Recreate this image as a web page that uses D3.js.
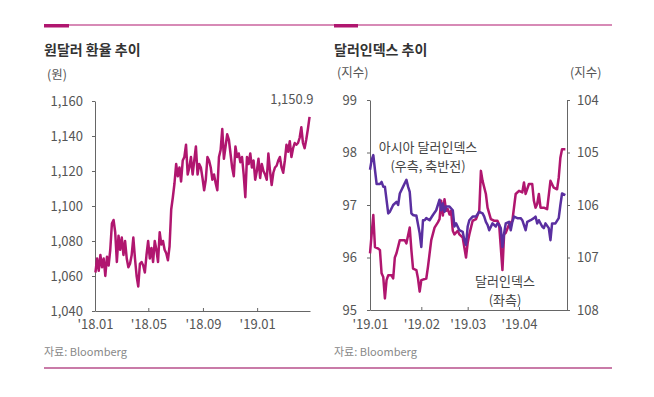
<!DOCTYPE html>
<html>
<head>
<meta charset="utf-8">
<script src="https://cdn.jsdelivr.net/npm/d3@7"></script>
<style>
body { margin: 0; background: #fff; }
text { font-family: "Noto Sans CJK KR", "Noto Sans", sans-serif; }
</style>
</head>
<body>
<svg id="chart" width="654" height="397"></svg>
<script>
// 원달러 환율 (daily close)
var krwValues = [
	1062,1070,1063,1072,1065,1070,1060,1071,1066,1075,
	1090,1092,1085,1068,1083,1075,1082,1072,1080,1070,
	1065,1067,1072,1082,1070,1060,1054,1067,1068,1066,
	1062,1072,1080,1070,1076,1068,1080,1075,1068,1085,
	1078,1080,1075,1073,1069,1077,1098,1105,1113,1124,
	1117,1122,1114,1126,1128,1135,1118,1122,1128,1118,
	1126,1134,1118,1124,1122,1116,1109,1115,1128,1126,
	1122,1115,1118,1113,1109,1128,1132,1144,1127,1134,
	1141,1138,1130,1122,1117,1134,1128,1130,1125,1128,
	1118,1105,1128,1124,1130,1122,1126,1115,1120,1127,
	1116,1124,1120,1118,1115,1130,1120,1112,1119,1122,
	1123,1126,1128,1122,1119,1126,1135,1131,1137,1128,
	1133,1136,1135,1136,1139,1145,1136,1133,1138,1144,
	1150.9
];
var krwStart = "2018-01-02";
var krwEnd = "2019-04-29";
var krwTicks = ["2018-01-01", "2018-05-01", "2018-09-01", "2019-01-01"];
var krwTickLabels = ["'18.01", "'18.05", "'18.09", "'19.01"];
var krwYTicks = [1040, 1060, 1080, 1100, 1120, 1140, 1160];

// 달러인덱스 (좌측) - days since 2019-01-01
var dxyDays = [0,2,3,5,6,7,8,9,10,11,13,14,15,16,18,21,22,24,25,26,28,29,30,31,34,35,37,39,41,42,43,44,45,46,47,48,49,50,51,53,54,56,57,58,59,60,62,64,66,67,68,70,71,73,75,77,78,80,81,82,84,86,88,90,92,93,94,96,98,99,100,101,102,103,105,107,109,111,113,114,115,116,118];
var dxyValues = [96.08,96.81,96.2,96.17,96.14,95.7,95.63,95.22,95.57,95.66,95.66,95.6,96.0,96.08,96.33,96.33,96.27,96.57,96.14,95.79,95.76,95.6,95.35,95.57,95.6,95.82,96.33,96.57,96.67,96.73,97.08,96.8,97.11,96.89,96.92,96.82,96.89,96.51,96.44,96.51,96.44,96.38,96.19,96.0,96.28,96.44,96.7,96.73,96.89,97.65,97.46,97.21,96.95,96.73,96.7,96.7,96.63,95.76,96.44,96.47,96.63,96.7,97.21,97.27,97.24,97.43,97.21,97.4,97.4,97.08,96.95,97.02,97.21,96.95,96.95,96.92,97.46,97.33,97.3,97.52,97.9,98.06,98.06];

// 아시아 달러인덱스 (우측, 축반전)
var adxyDays = [0,1,2,3,4,6,7,8,9,11,12,14,16,17,18,20,22,23,24,25,26,27,28,30,31,32,33,34,36,38,40,42,43,44,45,46,48,50,51,52,54,56,57,58,59,60,62,64,66,68,69,70,71,72,74,76,77,78,79,80,81,82,84,85,86,87,89,91,92,94,95,97,99,100,101,102,104,105,106,108,109,110,112,114,115,116,118];
var adxyValues = [105.33,105.14,105.05,105.33,105.6,105.6,105.56,105.65,105.65,106.16,106.13,106.0,105.94,106.0,105.78,105.65,105.52,105.65,105.75,106.16,106.19,106.2,106.2,106.54,106.8,106.29,106.29,106.25,106.29,106.19,106.1,105.9,106.1,105.97,106.13,106.03,106.03,106.1,106.41,106.35,106.48,106.51,106.67,106.76,106.41,106.29,106.22,106.22,106.13,106.16,106.22,106.32,106.38,106.48,106.35,106.41,106.35,106.38,106.44,106.8,106.54,106.35,106.32,106.48,106.32,106.22,106.25,106.25,106.29,106.48,106.32,106.29,106.25,106.22,106.35,106.29,106.41,106.44,106.35,106.44,106.67,106.35,106.35,106.25,106.0,105.78,105.81];

var idxTicks = ["2019-01-01", "2019-02-01", "2019-03-01", "2019-04-01"];
var idxTickLabels = ["'19.01", "'19.02", "'19.03", "'19.04"];
var dxyYTicks = [95, 96, 97, 98, 99];
var adxyYTicks = [104, 105, 106, 107, 108];

var magenta = "#b0166f";
var purple = "#5a2fa0";
var axisColor = "#666";
var labelColor = "#555";

var parseDate = d3.timeParse("%Y-%m-%d");
var svg = d3.select("#chart");

// frame: rules and titles
svg.append("line").attr("x1", 44).attr("x2", 612).attr("y1", 25).attr("y2", 25)
	.attr("stroke", magenta).attr("stroke-width", 1.2);
svg.append("rect").attr("x", 44).attr("y", 24).attr("width", 25).attr("height", 3.5).attr("fill", magenta);
svg.append("rect").attr("x", 334).attr("y", 24).attr("width", 24).attr("height", 3.5).attr("fill", magenta);
svg.append("line").attr("x1", 44).attr("x2", 612).attr("y1", 368).attr("y2", 368)
	.attr("stroke", "#c97ba8").attr("stroke-width", 2);

svg.append("text").attr("x", 44).attr("y", 55).text("원달러 환율 추이")
	.attr("font-size", 14).attr("font-weight", "bold").attr("fill", "#333");
svg.append("text").attr("x", 334).attr("y", 55).text("달러인덱스 추이")
	.attr("font-size", 14).attr("font-weight", "bold").attr("fill", "#333");

svg.append("text").attr("x", 44).attr("y", 356).text("자료: Bloomberg")
	.attr("font-size", 11).attr("fill", "#888");
svg.append("text").attr("x", 334).attr("y", 356).text("자료: Bloomberg")
	.attr("font-size", 11).attr("fill", "#888");

function styleAxis(g) {
	g.select(".domain").attr("stroke", axisColor);
	g.selectAll(".tick line").attr("stroke", axisColor);
	g.selectAll(".tick text").attr("fill", labelColor).attr("font-size", 13)
		.attr("font-family", "'Noto Sans CJK KR', 'Noto Sans', sans-serif");
}

// ---- left chart: 원달러 환율
var xK = d3.scaleTime()
	.domain([parseDate("2018-01-01"), parseDate("2019-04-30")])
	.range([95, 310]);
var yK = d3.scaleLinear().domain([1040, 1160]).range([311, 101]);

var krwIndex = d3.scaleLinear()
	.domain([0, krwValues.length - 1])
	.range([parseDate(krwStart).getTime(), parseDate(krwEnd).getTime()]);

var krwData = krwValues.map(function (v, i) {
	return { date: new Date(krwIndex(i)), value: v };
});

svg.append("g").attr("transform", "translate(95,0)")
	.call(d3.axisLeft(yK).tickValues(krwYTicks).tickFormat(d3.format(","))
		.tickSizeInner(3).tickSizeOuter(0).tickPadding(9))
	.call(styleAxis);

svg.append("g").attr("transform", "translate(0,311)")
	.call(d3.axisBottom(xK).tickValues(krwTicks.map(parseDate))
		.tickFormat(function (d, i) { return krwTickLabels[i]; })
		.tickSizeInner(-3).tickSizeOuter(0).tickPadding(9))
	.call(styleAxis);

svg.append("text").attr("x", 47).attr("y", 79).text("(원)")
	.attr("font-size", 12.5).attr("fill", labelColor);

svg.append("path").datum(krwData)
	.attr("fill", "none").attr("stroke", magenta).attr("stroke-width", 2.5)
	.attr("stroke-linejoin", "round")
	.attr("d", d3.line().x(function (d) { return xK(d.date); }).y(function (d) { return yK(d.value); }));

var lastK = krwData[krwData.length - 1];
svg.append("text").attr("x", xK(lastK.date) + 4).attr("y", yK(lastK.value) - 13)
	.attr("text-anchor", "end").attr("font-size", 13).attr("fill", labelColor)
	.text(d3.format(",.1f")(lastK.value));

// ---- right chart: 달러인덱스
var xI = d3.scaleTime()
	.domain([parseDate("2019-01-01"), parseDate("2019-04-30")])
	.range([370, 567]);
var yL = d3.scaleLinear().domain([95, 99]).range([310, 100]);
var yR = d3.scaleLinear().domain([104, 108]).range([100, 310]);

function dayToDate(d) { return new Date(2019, 0, 1 + d); }

svg.append("g").attr("transform", "translate(370,0)")
	.call(d3.axisLeft(yL).tickValues(dxyYTicks).tickFormat(d3.format("d"))
		.tickSizeInner(3).tickSizeOuter(0).tickPadding(10))
	.call(styleAxis);
svg.append("g").attr("transform", "translate(567,0)")
	.call(d3.axisRight(yR).tickValues(adxyYTicks).tickFormat(d3.format("d"))
		.tickSizeInner(3).tickSizeOuter(0).tickPadding(7))
	.call(styleAxis);
svg.append("g").attr("transform", "translate(0,310)")
	.call(d3.axisBottom(xI).tickValues(idxTicks.map(parseDate))
		.tickFormat(function (d, i) { return idxTickLabels[i]; })
		.tickSizeInner(-3).tickSizeOuter(0).tickPadding(10))
	.call(styleAxis);

svg.append("text").attr("x", 337).attr("y", 77).text("(지수)")
	.attr("font-size", 12.5).attr("fill", labelColor);
svg.append("text").attr("x", 570).attr("y", 77).text("(지수)")
	.attr("font-size", 12.5).attr("fill", labelColor);

svg.append("path").datum(d3.zip(dxyDays, dxyValues))
	.attr("fill", "none").attr("stroke", magenta).attr("stroke-width", 2.5)
	.attr("stroke-linejoin", "round")
	.attr("d", d3.line().x(function (d) { return xI(dayToDate(d[0])); }).y(function (d) { return yL(d[1]); }));

svg.append("path").datum(d3.zip(adxyDays, adxyValues))
	.attr("fill", "none").attr("stroke", purple).attr("stroke-width", 2.5)
	.attr("stroke-linejoin", "round")
	.attr("d", d3.line().x(function (d) { return xI(dayToDate(d[0])); }).y(function (d) { return yR(d[1]); }));

svg.append("text").attr("x", 428).attr("y", 152).attr("text-anchor", "middle")
	.attr("font-size", 13).attr("fill", "#444").text("아시아 달러인덱스");
svg.append("text").attr("x", 428).attr("y", 171).attr("text-anchor", "middle")
	.attr("font-size", 13).attr("fill", "#444").text("(우측, 축반전)");
svg.append("text").attr("x", 505).attr("y", 286).attr("text-anchor", "middle")
	.attr("font-size", 13).attr("fill", "#444").text("달러인덱스");
svg.append("text").attr("x", 505).attr("y", 305).attr("text-anchor", "middle")
	.attr("font-size", 13).attr("fill", "#444").text("(좌측)");
</script>
</body>
</html>
